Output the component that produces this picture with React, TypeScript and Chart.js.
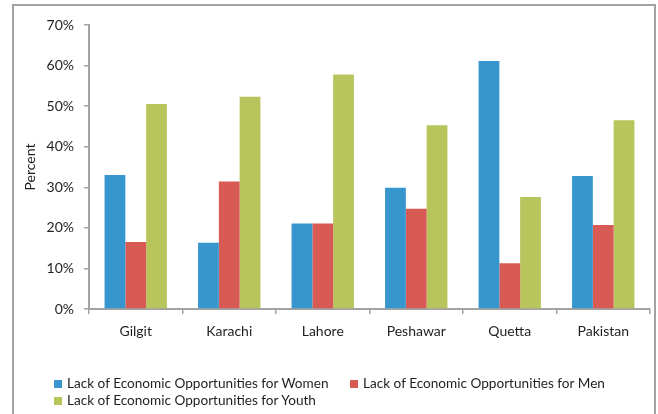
import React, { useEffect, useRef } from "react";
import { Chart, registerables } from "chart.js";

Chart.register(...registerables);

const cities = ["Gilgit", "Karachi", "Lahore", "Peshawar", "Quetta", "Pakistan"];
const women = [33.0, 16.3, 21.1, 29.9, 61.1, 32.8];
const men = [16.5, 31.4, 21.1, 24.7, 11.3, 20.7];
const youth = [50.5, 52.3, 57.8, 45.3, 27.6, 46.5];
const seriesNames = [
  "Lack of Economic Opportunities for Women",
  "Lack of Economic Opportunities for Men",
  "Lack of Economic Opportunities for Youth",
];
const seriesColors = ["#3796ce", "#d85a55", "#b8c55c"];
const yTicks = [0, 10, 20, 30, 40, 50, 60, 70];
const yTitle = "Percent";

const FONT = "Lato, 'Noto Sans', sans-serif";
const TEXT = "#1f1f1f";
const AXIS = "#a3a3a3";

export default function App() {
  const ref = useRef<HTMLCanvasElement | null>(null);

  useEffect(() => {
    if (!ref.current) return;
    const seriesData = [women, men, youth];
    const chart = new Chart(ref.current, {
      type: "bar",
      data: {
        labels: cities,
        datasets: seriesData.map((d, i) => ({
          label: seriesNames[i],
          data: d,
          backgroundColor: seriesColors[i],
          borderWidth: 0,
          categoryPercentage: 0.667,
          barPercentage: 1,
        })),
      },
      options: {
        responsive: false,
        animation: false,
        layout: { padding: { top: 25, right: 8, bottom: 73, left: 0 } },
        plugins: { legend: { display: false }, tooltip: { enabled: false } },
        scales: {
          x: {
            grid: {
              display: true,
              drawOnChartArea: false,
              drawTicks: true,
              tickLength: 5,
              color: AXIS,
              lineWidth: 1.5,
              offset: true,
            },
            border: { display: true, color: AXIS, width: 2 },
            ticks: { color: TEXT, font: { family: FONT, size: 14 }, padding: 9 },
            afterFit: (s: any) => {
              s.height = 32;
            },
          },
          y: {
            min: 0,
            max: 70,
            afterBuildTicks: (s: any) => {
              s.ticks = yTicks.map((v) => ({ value: v }));
            },
            ticks: {
              color: TEXT,
              font: { family: FONT, size: 14 },
              padding: 10,
              callback: (v: any) => v + "%",
            },
            grid: {
              display: true,
              drawOnChartArea: false,
              drawTicks: true,
              tickLength: 5,
              color: AXIS,
              lineWidth: 1.5,
            },
            border: { display: true, color: AXIS, width: 2 },
            title: {
              display: true,
              text: yTitle,
              color: TEXT,
              font: { family: FONT, size: 14 },
              padding: { top: 22, bottom: 0 },
            },
            afterFit: (s: any) => {
              s.width = 89;
            },
          },
        },
      },
    });
    return () => chart.destroy();
  }, []);

  return (
    <div
      style={{
        position: "fixed",
        left: 0,
        top: 0,
        width: 658,
        height: 414,
        overflow: "hidden",
        background: "#fff",
      }}
    >
      <div
        style={{
          position: "absolute",
          left: 12,
          top: 4,
          width: 640,
          height: 430,
          border: `2px solid ${AXIS}`,
        }}
      />
      <canvas
        ref={ref}
        width={658}
        height={414}
        style={{ position: "absolute", left: 0, top: 0, width: 658, height: 414 }}
      />
      <div
        style={{
          position: "absolute",
          left: 54,
          top: 375,
          display: "grid",
          gridTemplateColumns: "296px auto",
          fontFamily: FONT,
          fontSize: 13.6,
          lineHeight: "17px",
          color: TEXT,
        }}
      >
        {seriesNames.map((name, i) => (
          <div key={name} style={{ display: "flex", alignItems: "center", whiteSpace: "nowrap" }}>
            <span
              style={{
                display: "inline-block",
                width: 8,
                height: 8,
                background: seriesColors[i],
                marginRight: 5,
              }}
            />
            <span>{name}</span>
          </div>
        ))}
      </div>
    </div>
  );
}
